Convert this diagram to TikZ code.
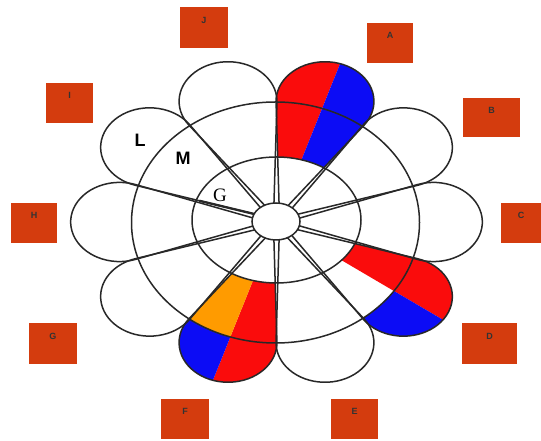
\documentclass[tikz,border=0pt]{standalone}
\usepackage{fontspec}
\usetikzlibrary{shapes.geometric}
\setmainfont{Liberation Serif}
\setsansfont{Liberation Sans}
\definecolor{pred}{RGB}{250,12,12}
\definecolor{pblue}{RGB}{12,12,245}
\definecolor{porange}{RGB}{255,155,0}
\definecolor{boxred}{RGB}{212,60,14}
\definecolor{ink}{RGB}{40,40,40}
\newcommand\petalshape{(16,3) -- (112.13,36.8) arc[start angle=109.28, end angle=-109.28, radius=39] -- (16,-3) -- cycle}
\newcommand\innerring{(276.5,221) ellipse [x radius=84.5, y radius=63]}
\newcommand\middlering{(275.5,218.5) ellipse [x radius=144, y radius=120.5]}
\tikzset{
  pf/.style={shift={(276.5,219)}, xscale=1.255, yscale=1.015},
  outline/.style={draw=ink, line width=1.5pt},
  lbox/.style={fill=boxred, draw=none, inner sep=0pt, text height=7pt, text depth=15pt,
    font=\sffamily\bfseries\fontsize{9}{10}\selectfont, text=black!80},
  biglabel/.style={font=\sffamily\bfseries\fontsize{18}{20}\selectfont, text=black, inner sep=0pt},
}
\begin{document}
\begin{tikzpicture}[x=1pt, y=1pt]
\useasboundingbox (0,0) rectangle (541,441);
\fill[white] (0,0) rectangle (541,441);

% ---- coloured petal A (72 deg)
\begin{scope}
  \clip[pf, rotate=72] \petalshape;
  \begin{scope}
    \clip[pf, rotate=72] (0,0) rectangle (200,70);
    \fill[pred, even odd rule] \innerring (0,0) rectangle (541,441);
  \end{scope}
  \begin{scope}
    \clip[pf, rotate=72] (0,0) rectangle (200,-70);
    \fill[pblue, even odd rule] \innerring (0,0) rectangle (541,441);
  \end{scope}
\end{scope}
% ---- coloured petal D (-36 deg)
\begin{scope}
  \clip[pf, rotate=-36] \petalshape;
  \begin{scope}
    \clip[pf, rotate=-36] (0,0) rectangle (200,70);
    \fill[pred, even odd rule] \innerring (0,0) rectangle (541,441);
  \end{scope}
  \begin{scope}
    \clip[pf, rotate=-36] (0,0) rectangle (200,-70);
    \fill[pblue, even odd rule] \middlering (0,0) rectangle (541,441);
  \end{scope}
\end{scope}
% ---- coloured petal F (-108 deg)
\begin{scope}
  \clip[pf, rotate=-108] \petalshape;
  \begin{scope}
    \clip[pf, rotate=-108] (0,0) rectangle (200,70);
    \fill[pred, even odd rule] \innerring (0,0) rectangle (541,441);
  \end{scope}
  \begin{scope}
    \clip[pf, rotate=-108] (0,0) rectangle (200,-70);
    \fill[porange, even odd rule] \innerring \middlering;
    \fill[pblue, even odd rule] \middlering (0,0) rectangle (541,441);
  \end{scope}
\end{scope}

% ---- petal outlines
\foreach \a in {0,36,...,324}{
  \draw[outline, pf, rotate=\a] \petalshape;
}
% ---- rings
\draw[outline] \innerring;
\draw[outline] \middlering;
% ---- bold edge under G
\draw[draw=ink, line width=2.3pt, pf, rotate=144] (16,3) -- (62,19.2);
% ---- centre
\node[ellipse, fill=white, draw=ink, line width=1.5pt, minimum width=48pt, minimum height=37pt, inner sep=0pt] (hub) at (276,219.5) {};

% ---- region labels
\node[biglabel] (lL) at (140,301) {L};
\node[biglabel] (lM) at (183,283) {M};
\node[font=\rmfamily\fontsize{19}{21}\selectfont, inner sep=0pt] (lG) at (220,245.5) {G};

% ---- letter boxes
\node[lbox, minimum width=48pt, minimum height=41pt] (bJ) at (204,413.5) {J};
\node[lbox, minimum width=46pt, minimum height=40pt] (bA) at (390,398) {A};
\node[lbox, minimum width=57pt, minimum height=39pt] (bB) at (491.5,323.5) {B};
\node[lbox, minimum width=40pt, minimum height=40pt] (bC) at (521,218) {C};
\node[lbox, minimum width=55pt, minimum height=41pt] (bD) at (489.5,97.5) {D};
\node[lbox, minimum width=47pt, minimum height=40pt] (bE) at (354.5,22) {E};
\node[lbox, minimum width=48pt, minimum height=40pt] (bF) at (185,22) {F};
\node[lbox, minimum width=48pt, minimum height=41pt] (bG) at (53,97.5) {G};
\node[lbox, minimum width=46pt, minimum height=40pt] (bH) at (34,218) {H};
\node[lbox, minimum width=47pt, minimum height=40pt] (bI) at (69.5,338) {I};
\end{tikzpicture}
\end{document}
